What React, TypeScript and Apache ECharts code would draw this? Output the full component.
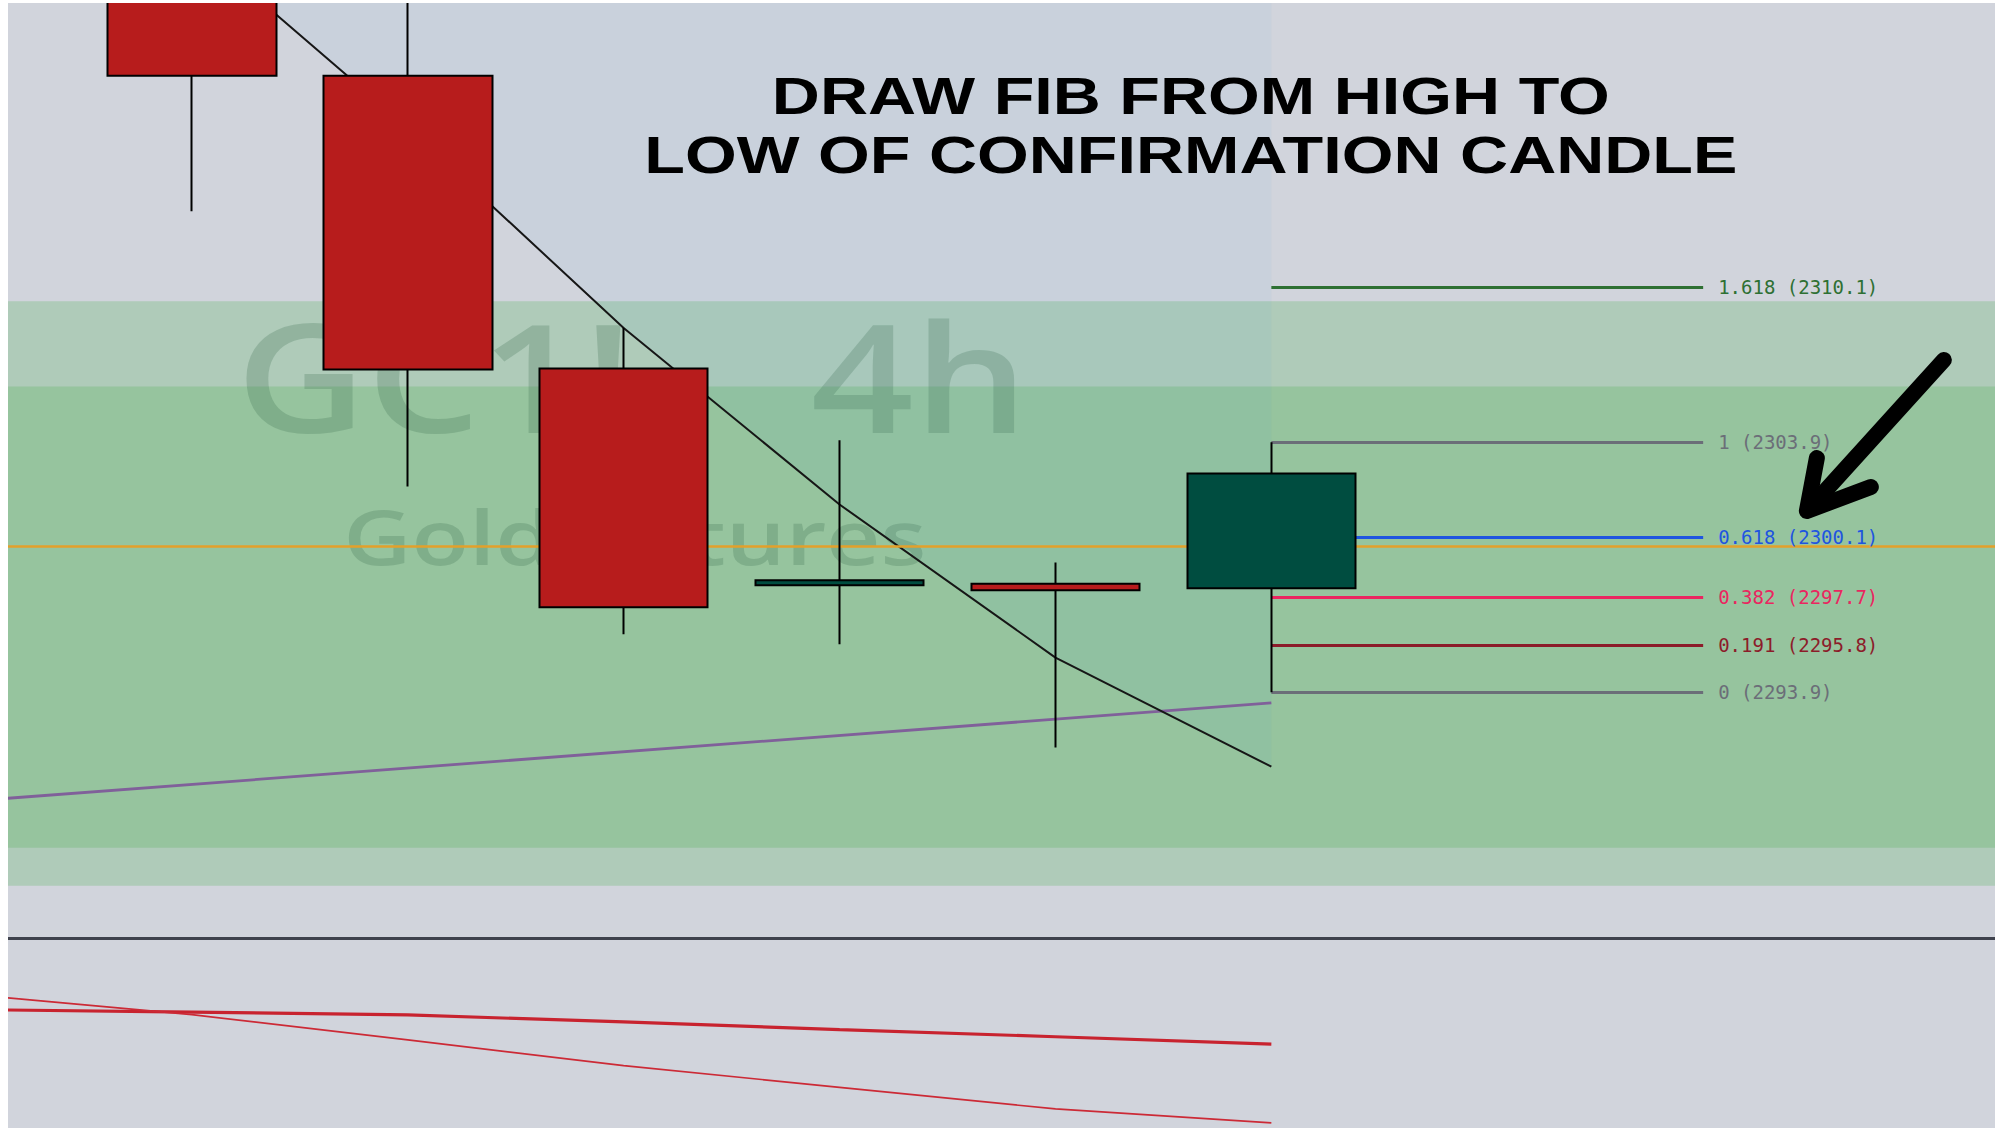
import React, { useEffect, useRef } from "react";
import * as echarts from "echarts";

// ---------- data ----------
const categories = ["b0", "b1", "b2", "b3", "b4", "b5", "b6", "b7", "b8", "b9"];
const opens: (number | string)[] = ["-", 2324.6, 2318.55, 2306.85, 2298.18, 2298.24, 2298.06];
const closes: (number | string)[] = ["-", 2318.55, 2306.81, 2297.3, 2298.38, 2297.98, 2302.65];
const lows: (number | string)[] = ["-", 2313.13, 2302.13, 2296.22, 2295.82, 2291.7, 2293.9];
const highs: (number | string)[] = ["-", 2326.0, 2324.5, 2308.48, 2303.98, 2299.09, 2303.9];
const trendLine = [null, 2323.9, 2316.47, 2308.47, 2301.41, 2295.29, 2290.93];
const purpleLine = [2289.57, null, null, null, null, null, 2293.48];
const orangeLevel = 2299.76;
const zoneOuter = [2309.54, 2286.17];
const zoneInner = [2306.13, 2287.69];
const fibLevels = [1.618, 1, 0.618, 0.382, 0.191, 0];
const fibPrices = [2310.1, 2303.9, 2300.1, 2297.7, 2295.8, 2293.9];
const fibStartIndex = 6;
const fibEndIndex = 8;
const oscSlow = [63.3, 62.0, 60.5, 56.7, 52.6, 48.8, 44.9];
const oscFast = [71.1, 60.6, 47.1, 33.4, 21.7, 10.2, 2.7];
const titleLines = ["DRAW FIB FROM HIGH TO", "LOW OF CONFIRMATION CANDLE"];
const watermarkLines = ["GC1!,", "4h", "Gold Futures"];

// ---------- styles / layout ----------
const fibColors = ["#2e7033", "#6b6e78", "#1f55e0", "#ea2660", "#8c1c2a", "#6b6e78"];

const VIEW_W = 1987;
const H = 1125;
const OX = 139.85; // chart canvas starts this far left of the visible frame
const CHART_W = 2159;

function buildOption(): any {
  const candleData = opens.map((o, i) =>
    o === "-" ? ["-", "-", "-", "-"] : [o, closes[i], lows[i], highs[i]]
  );

  const fibData = fibLevels.map((lvl, i) => [
    {
      coord: [fibStartIndex, fibPrices[i]],
      lineStyle: { color: fibColors[i], width: 3, type: "solid" },
      label: {
        show: true,
        position: "end",
        distance: 15,
        formatter: `${lvl} (${fibPrices[i].toFixed(1)})`,
        color: fibColors[i],
        fontFamily: "DejaVu Sans Mono",
        fontSize: 19,
      },
    },
    { coord: [fibEndIndex, fibPrices[i]] },
  ]);

  const wmColor = "rgba(55,105,75,0.24)";
  const wmText = (text: string, x: number, y: number, size: number, align: string, sx: number) => ({
    type: "text",
    x: x + OX,
    y,
    z: 1.5,
    scaleX: sx,
    silent: true,
    style: {
      text,
      x: 0,
      y: 0,
      align,
      verticalAlign: "middle",
      fontFamily: "Open Sans",
      fontWeight: 600,
      fontSize: size,
      fill: wmColor,
    },
  });
  const titleText = (text: string, y: number) => ({
    type: "text",
    x: 1183 + OX,
    y,
    z: 10,
    scaleX: 1.28,
    silent: true,
    style: {
      text,
      x: 0,
      y: 0,
      align: "center",
      verticalAlign: "middle",
      fontFamily: "Liberation Sans",
      fontWeight: "bold",
      fontSize: 52,
      fill: "#000",
    },
  });
  const arrowStyle = { stroke: "#000", lineWidth: 16, lineCap: "round", lineJoin: "round", fill: null };

  return {
    animation: false,
    backgroundColor: "#d1d4dc",
    grid: [
      { left: 0, right: 0, top: 0, height: 935 },
      { left: 0, right: 0, top: 938, height: 187 },
    ],
    xAxis: [
      {
        type: "category",
        data: categories,
        gridIndex: 0,
        boundaryGap: true,
        axisLine: { show: true, onZero: false, lineStyle: { color: "#3f424d", width: 3 } },
        axisTick: { show: false },
        axisLabel: { show: false },
        splitLine: { show: false },
      },
      {
        type: "category",
        data: categories,
        gridIndex: 1,
        boundaryGap: true,
        show: false,
      },
    ],
    yAxis: [
      { type: "value", gridIndex: 0, min: 2284.08, max: 2321.46, show: false, splitLine: { show: false } },
      { type: "value", gridIndex: 1, min: 0, max: 100, show: false, splitLine: { show: false } },
    ],
    graphic: [
      wmText(watermarkLines[0], 228, 372, 150, "left", 1.2),
      wmText(watermarkLines[1], 803, 372, 150, "left", 1.2),
      wmText(watermarkLines[2], 627, 533, 76, "center", 1.24),
      titleText(titleLines[0], 93.5),
      titleText(titleLines[1], 152),
      {
        type: "polyline",
        z: 10,
        silent: true,
        shape: { points: [[1936 + OX, 357], [1800 + OX, 507]] },
        style: arrowStyle,
      },
      {
        type: "polyline",
        z: 10,
        silent: true,
        shape: { points: [[1809 + OX, 455], [1799 + OX, 508], [1863 + OX, 484]] },
        style: arrowStyle,
      },
    ],
    series: [
      {
        name: "Trendline",
        type: "line",
        xAxisIndex: 0,
        yAxisIndex: 0,
        data: purpleLine,
        connectNulls: true,
        symbol: "none",
        silent: true,
        z: 2,
        lineStyle: { color: "#80609a", width: 2.8 },
        markArea: {
          silent: true,
          z: 1,
          itemStyle: { color: "rgba(76,175,80,0.25)" },
          data: [
            [{ yAxis: zoneOuter[0] }, { yAxis: zoneOuter[1] }],
            [{ yAxis: zoneInner[0] }, { yAxis: zoneInner[1] }],
          ],
        },
        markLine: {
          silent: true,
          z: 3,
          symbol: ["none", "none"],
          label: { show: false },
          lineStyle: { color: "#e3a02a", width: 2.6, type: "solid" },
          data: [{ yAxis: orangeLevel }],
        },
      },
      {
        name: "MA",
        type: "line",
        xAxisIndex: 0,
        yAxisIndex: 0,
        data: trendLine,
        symbol: "none",
        silent: true,
        z: 2,
        lineStyle: { color: "#161616", width: 2 },
        areaStyle: { origin: "end", color: "rgba(33,150,243,0.07)" },
      },
      {
        name: "GC1!",
        type: "candlestick",
        xAxisIndex: 0,
        yAxisIndex: 0,
        data: candleData,
        barWidth: 169,
        silent: true,
        z: 4,
        itemStyle: {
          color: "#004d40",
          color0: "#b71c1c",
          borderColor: "#000",
          borderColor0: "#000",
          borderWidth: 2,
        },
        markLine: {
          silent: true,
          z: 3,
          symbol: ["none", "none"],
          lineStyle: { width: 3, type: "solid" },
          data: fibData,
        },
      },
      {
        name: "Slow",
        type: "line",
        xAxisIndex: 1,
        yAxisIndex: 1,
        data: oscSlow,
        symbol: "none",
        silent: true,
        lineStyle: { color: "#c8232f", width: 3.2 },
      },
      {
        name: "Fast",
        type: "line",
        xAxisIndex: 1,
        yAxisIndex: 1,
        data: oscFast,
        symbol: "none",
        silent: true,
        lineStyle: { color: "#cc2a36", width: 1.7 },
      },
    ],
  };
}

export default function App() {
  const ref = useRef<HTMLDivElement>(null);
  useEffect(() => {
    if (!ref.current) return;
    const chart = echarts.init(ref.current, null, { renderer: "svg" });
    chart.setOption(buildOption());
    return () => chart.dispose();
  }, []);
  return (
    <div
      style={{
        position: "absolute",
        left: 8,
        top: 3,
        width: VIEW_W,
        height: H,
        overflow: "hidden",
      }}
    >
      <div
        ref={ref}
        style={{ position: "absolute", left: -OX, top: 0, width: CHART_W, height: H }}
      />
    </div>
  );
}
